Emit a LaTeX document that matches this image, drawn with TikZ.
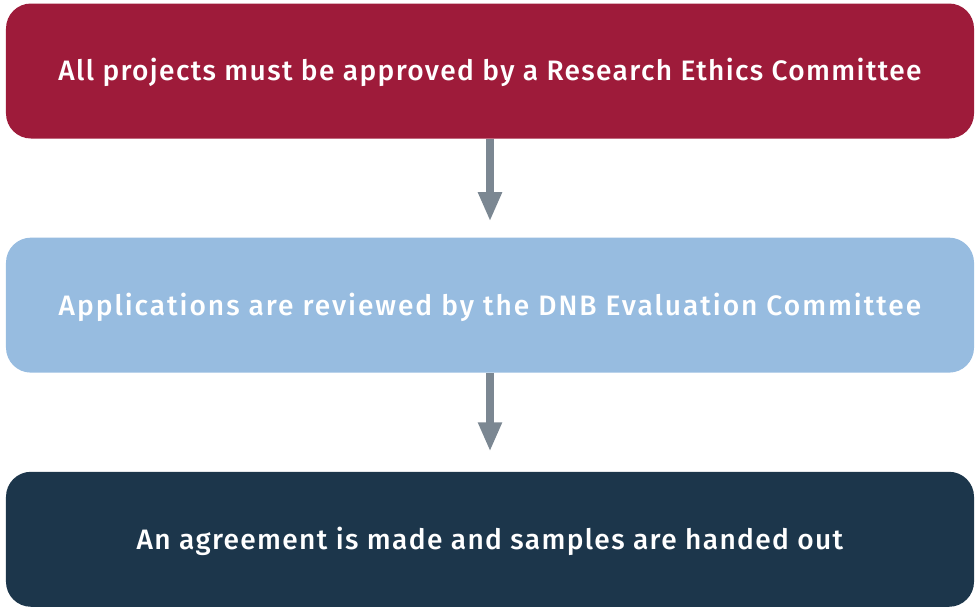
\documentclass[tikz,border=0pt]{standalone}
\usepackage{fontspec}
\setmainfont{Fira Sans}[UprightFont={* Medium},LetterSpace=4.8]
\usetikzlibrary{positioning,arrows.meta}
\definecolor{ethicsred}{HTML}{9E1B3A}
\definecolor{reviewblue}{HTML}{97BCE0}
\definecolor{agreenavy}{HTML}{1C364B}
\definecolor{arrowgray}{HTML}{7B8792}
\begin{document}
\begin{tikzpicture}[box_style/.style={rectangle,rounded corners=0.75cm,minimum width=29.04cm,minimum height=4.05cm,text height=18pt,text depth=1pt,text=white,font=\fontsize{24}{28}\selectfont},
           ethics_style/.style={box_style,fill=ethicsred},
           review_style/.style={box_style,fill=reviewblue},
           agreement_style/.style={box_style,fill=agreenavy},
           arrow_style/.style={draw=arrowgray,line width=7pt,-{Triangle[length=25pt,width=19pt]}}]
            \useasboundingbox (0,0) rectangle (29.37,-18.18);
            \node[ethics_style] (ethics) at (14.7,-2.13) {All projects must be approved by a Research Ethics Committee};
            \node[review_style,below=2.96cm of ethics] (review) {\addfontfeature{LetterSpace=7}Applications are reviewed by the DNB Evaluation Committee};
            \node[agreement_style,below=2.96cm of review] (agreement) {An agreement is made and samples are handed out};
            \draw[arrow_style,shorten >=0.48cm]  (ethics) -- (review);
            \draw[arrow_style,shorten >=0.6cm]  (review) -- (agreement);
        \end{tikzpicture}
\end{document}
